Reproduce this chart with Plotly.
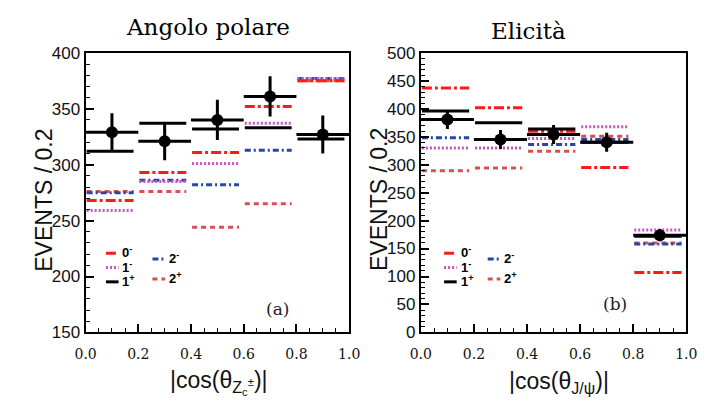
import plotly.graph_objects as go

# ---------------- data ----------------
bin_lo = [0.0, 0.2, 0.4, 0.6, 0.8]
bin_hi = [0.2, 0.4, 0.6, 0.8, 1.0]
bin_c = [0.1, 0.3, 0.5, 0.7, 0.9]

# panel (a): |cos(theta_Zc)|
a_data = [329, 321, 340, 361, 327]
a_err = [17, 17, 18, 18, 17]
a_0m = [268, 293, 311, 352, 375]
a_1m = [259, 285, 301, 337, 377]
a_1p = [312, 337, 332, 333, 323]
a_2m = [275, 286, 282, 313, 377]
a_2p = [276, 276, 244, 265, 375]

# panel (b): |cos(theta_J/psi)|
b_data = [381, 345, 354, 340, 174]
b_err = [17, 17, 17, 17, 11]
b_0m = [437, 402, 360, 295, 107]
b_1m = [330, 330, 347, 368, 183]
b_1p = [396, 375, 364, 340, 172]
b_2m = [348, 345, 336, 345, 158]
b_2p = [289, 294, 324, 351, 160]

hyp_names = ["0<sup>-</sup>", "1<sup>-</sup>", "1<sup>+</sup>", "2<sup>-</sup>", "2<sup>+</sup>"]

# ---------------- styles ----------------
styles = {
    "0m": dict(color="#ff1a1a", dash="10px,3px,3px,3px", width=3),
    "1m": dict(color="#c455c4", dash="2px,2px", width=3),
    "1p": dict(color="black", dash="solid", width=3),
    "2m": dict(color="#2446a6", dash="6px,3px,2px,3px", width=3),
    "2p": dict(color="#d84f4f", dash="5px,4px", width=3),
}

fig = go.Figure()


def seg(vals, gl=0.004, gr=0.018):
    xs, ys = [], []
    for lo, hi, v in zip(bin_lo, bin_hi, vals):
        xs += [lo + gl, hi - gr, None]
        ys += [v, v, None]
    return xs, ys


def add_panel(xa, ya, h0m, h1m, h1p, h2m, h2p, data, err):
    for key, vals in [("2p", h2p), ("2m", h2m), ("1m", h1m), ("0m", h0m), ("1p", h1p)]:
        xs, ys = seg(vals)
        fig.add_trace(go.Scatter(x=xs, y=ys, mode="lines", line=styles[key],
                                 xaxis=xa, yaxis=ya, showlegend=False, hoverinfo="skip"))
    fig.add_trace(go.Scatter(
        x=bin_c, y=data, mode="markers", xaxis=xa, yaxis=ya, showlegend=False,
        marker=dict(color="black", size=12, symbol="circle"),
        error_y=dict(type="data", array=err, color="black", thickness=3, width=0),
        error_x=dict(type="constant", value=0.1, color="black", thickness=3, width=0),
    ))


add_panel("x", "y", a_0m, a_1m, a_1p, a_2m, a_2p, a_data, a_err)
add_panel("x2", "y2", b_0m, b_1m, b_1p, b_2m, b_2p, b_data, b_err)

W, H = 707, 413
ydom = [1 - 339 / H, 1 - 46 / H]

xtick = dict(
    range=[0, 1], tickvals=[0, 0.2, 0.4, 0.6, 0.8, 1.0],
    ticktext=["0.0", "0.2", "0.4", "0.6", "0.8", "1.0"],
    ticks="inside", ticklen=8, tickwidth=1.5, tickcolor="black",
    minor=dict(dtick=0.05, ticks="inside", ticklen=4, tickcolor="black", tickwidth=1.2),
    showline=True, linewidth=2, linecolor="black", mirror=True,
    showgrid=False, zeroline=False, ticklabelstandoff=8,
    tickfont=dict(family="DejaVu Serif", size=14, color="#111"),
)
ytick_common = dict(
    ticks="inside", ticklen=8, tickwidth=1.5, tickcolor="black",
    showline=True, linewidth=2, linecolor="black", mirror=True,
    showgrid=False, zeroline=False,
    tickfont=dict(family="Liberation Sans", size=17, color="#111"),
)

fig.update_layout(
    width=W, height=H, margin=dict(l=0, r=0, t=0, b=0),
    paper_bgcolor="white", plot_bgcolor="white",
    xaxis=dict(domain=[77 / W, 349 / W], anchor="y", **xtick),
    yaxis=dict(domain=ydom, anchor="x", range=[150, 400], dtick=50,
               minor=dict(dtick=10, ticks="inside", ticklen=4, tickcolor="black", tickwidth=1.2),
               **ytick_common),
    xaxis2=dict(domain=[423 / W, 697 / W], anchor="y2", **xtick),
    yaxis2=dict(domain=ydom, anchor="x2", range=[0, 500], dtick=50,
                minor=dict(dtick=10, ticks="inside", ticklen=4, tickcolor="black", tickwidth=1.2),
                **ytick_common),
)


def A(text, x, y, size, family, color="black", xref="paper", yref="paper",
      xanchor="center", angle=0):
    return dict(text=text, x=x, y=y, xref=xref, yref=yref, xanchor=xanchor,
                yanchor="middle", textangle=angle, showarrow=False,
                font=dict(family=family, size=size, color=color))


ann = []
# titles
ann.append(A("Angolo polare", 203 / W, 1 - 19 / H, 23, "DejaVu Serif"))
ann.append(A("Elicità", 534 / W, 1 - 23 / H, 23, "DejaVu Serif"))
# y titles
for xc in [34, 380]:
    ann.append(A("EVENTS / 0.2", xc / W, 1 - 200 / H, 23, "Liberation Sans", "#111", angle=-90))
# x titles
ann.append(A("|cos(θ<sub>Z<sub>c</sub><sup>±</sup></sub>)|", 215 / W, 1 - 392 / H, 23,
             "Liberation Sans", "#111"))
ann.append(A("|cos(θ<sub>J/ψ</sub>)|", 566 / W, 1 - 392 / H, 23, "Liberation Sans", "#111"))
# panel labels
ann.append(A("(a)", 0.728, 171, 17, "DejaVu Serif", "#222", xref="x", yref="y"))
ann.append(A("(b)", 0.732, 51, 17, "DejaVu Serif", "#222", xref="x2", yref="y2"))

# legends (drawn as samples + labels)
shapes = []
leg_keys = ["0m", "1m", "1p", "2m", "2p"]
for x0, x1 in [(98, 146), (447, 492)]:
    pos = [(x0, 256), (x0, 271), (x0, 286), (x1, 262), (x1, 283)]
    for key, name, (px, py) in zip(leg_keys, hyp_names, pos):
        st = styles[key]
        shapes.append(dict(type="line", xref="paper", yref="paper",
                           x0=px / W, x1=(px + 13) / W, y0=1 - py / H, y1=1 - py / H,
                           line=dict(color=st["color"], dash=st["dash"], width=3)))
        ann.append(A("<b>" + name + "</b>", (px + 15) / W, 1 - (py - 1) / H, 13,
                     "Liberation Sans", xanchor="left"))

fig.update_layout(annotations=ann, shapes=shapes)
fig.write_html("out.html")
